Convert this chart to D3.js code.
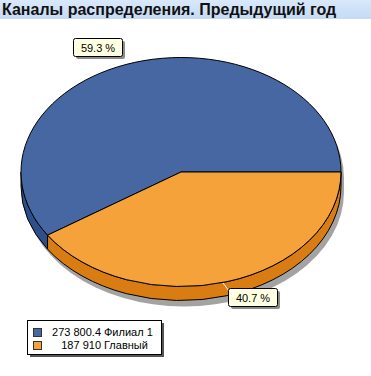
<!DOCTYPE html>
<html>
<head>
<meta charset="utf-8">
<script src="https://cdn.jsdelivr.net/npm/d3@7"></script>
<style>
  body { margin: 0; background: #fff; }
  svg { display: block; font-family: "Liberation Sans", Arial, sans-serif; }
</style>
</head>
<body>
<div id="chart"></div>
<script>
var title = "Каналы распределения. Предыдущий год";
var names = ["Филиал 1", "Главный"];
var values = [273800.4, 187910];
var valueLabels = ["273 800.4", "187 910"];
var percentLabels = ["59.3 %", "40.7 %"];

var topColors = ["#4767a3", "#f5a23a"];
var sideColors = ["#2f4f8c", "#d97d12"];

var width = 371, height = 376;
var cx = 181, cy = 172, rx = 160, ry = 114.5, depth = 14;

var svg = d3.select("#chart").append("svg")
    .attr("width", width)
    .attr("height", height);

// title band
var defs = svg.append("defs");
var grad = defs.append("linearGradient").attr("id", "band").attr("x1", 0).attr("y1", 0).attr("x2", 0).attr("y2", 1);
grad.append("stop").attr("offset", "0%").attr("stop-color", "#d9e8fb");
grad.append("stop").attr("offset", "100%").attr("stop-color", "#c4daf5");

svg.append("rect").attr("x", 0).attr("y", 0).attr("width", width).attr("height", 19).attr("fill", "url(#band)");
svg.append("text")
    .attr("x", 2).attr("y", 15)
    .attr("font-size", 16).attr("font-weight", "bold")
    .attr("fill", "#111")
    .text(title);

// pie angles: start at 3 o'clock, go counter-clockwise
var pie = d3.pie().sort(null).startAngle(Math.PI / 2).endAngle(Math.PI / 2 - 2 * Math.PI);
var arcs = pie(values);

function pt(a, dy) {
  return [cx + rx * Math.sin(a), cy - ry * Math.cos(a) + (dy || 0)];
}

// shadow of the whole cylinder
var sh = svg.append("g").attr("transform", "translate(3,6)");
sh.append("ellipse").attr("cx", cx).attr("cy", cy + depth).attr("rx", rx).attr("ry", ry).attr("fill", "#a3a3a3");
sh.append("rect").attr("x", cx - rx).attr("y", cy).attr("width", 2 * rx).attr("height", depth).attr("fill", "#a3a3a3");
sh.append("ellipse").attr("cx", cx).attr("cy", cy).attr("rx", rx).attr("ry", ry).attr("fill", "#a3a3a3");

// side walls (front half only)
function frontPart(a0, a1) {
  var lo = Math.min(a0, a1), hi = Math.max(a0, a1);
  var parts = [];
  for (var k = -2; k <= 2; k++) {
    var f0 = Math.PI / 2 + 2 * Math.PI * k, f1 = 3 * Math.PI / 2 + 2 * Math.PI * k;
    var s = Math.max(lo, f0), e = Math.min(hi, f1);
    if (e > s) parts.push([s, e]);
  }
  return parts;
}

arcs.forEach(function(d, i) {
  frontPart(d.startAngle, d.endAngle).forEach(function(p) {
    var p0 = pt(p[0]), p1 = pt(p[1]);
    var large = (p[1] - p[0]) > Math.PI ? 1 : 0;
    var s = "M" + p0 + "A" + rx + "," + ry + " 0 " + large + " 1 " + p1 +
            "L" + p1[0] + "," + (p1[1] + depth) +
            "A" + rx + "," + ry + " 0 " + large + " 0 " + p0[0] + "," + (p0[1] + depth) + "Z";
    svg.append("path").attr("d", s)
        .attr("fill", sideColors[i])
        .attr("stroke", "#000").attr("stroke-width", 1);
  });
});

// top faces
arcs.forEach(function(d, i) {
  var p0 = pt(d.startAngle), p1 = pt(d.endAngle);
  var large = Math.abs(d.endAngle - d.startAngle) > Math.PI ? 1 : 0;
  var s = "M" + cx + "," + cy + "L" + p0 + "A" + rx + "," + ry + " 0 " + large + " 0 " + p1 + "Z";
  svg.append("path").attr("d", s)
      .attr("fill", topColors[i])
      .attr("stroke", "#000").attr("stroke-width", 1);
});

// percent labels
var labelPos = [[73, 38], [228, 288]];
var leaders = [[[121, 52], [131, 62]], [[223, 283], [229, 291]]];
arcs.forEach(function(d, i) {
  svg.append("line")
      .attr("x1", leaders[i][0][0]).attr("y1", leaders[i][0][1])
      .attr("x2", leaders[i][1][0]).attr("y2", leaders[i][1][1])
      .attr("stroke", "#fff").attr("stroke-width", 1);
  var g = svg.append("g").attr("transform", "translate(" + labelPos[i] + ")");
  g.append("rect").attr("x", 3).attr("y", 3).attr("width", 49).attr("height", 18).attr("rx", 2).attr("fill", "#8c8c8c");
  g.append("rect").attr("x", 0.5).attr("y", 0.5).attr("width", 49).attr("height", 18).attr("rx", 2)
      .attr("fill", "#ffffe1").attr("stroke", "#000");
  g.append("text").attr("x", 25).attr("y", 14).attr("text-anchor", "middle")
      .attr("font-size", 11).attr("fill", "#000").text(percentLabels[i]);
});

// legend
var lg = svg.append("g").attr("transform", "translate(27,320)");
lg.append("rect").attr("x", 3).attr("y", 3).attr("width", 134).attr("height", 34).attr("fill", "#555");
lg.append("rect").attr("x", 0.5).attr("y", 0.5).attr("width", 134).attr("height", 34).attr("fill", "#fff").attr("stroke", "#000");
names.forEach(function(n, i) {
  var y = 8 + i * 13;
  lg.append("rect").attr("x", 6.5).attr("y", y + 0.5).attr("width", 8).attr("height", 8)
      .attr("fill", topColors[i]).attr("stroke", "#333");
  lg.append("text").attr("x", 74).attr("y", y + 8).attr("text-anchor", "end")
      .attr("font-size", 11).text(valueLabels[i]);
  lg.append("text").attr("x", 77).attr("y", y + 8)
      .attr("font-size", 11).text(n);
});
</script>
</body>
</html>
